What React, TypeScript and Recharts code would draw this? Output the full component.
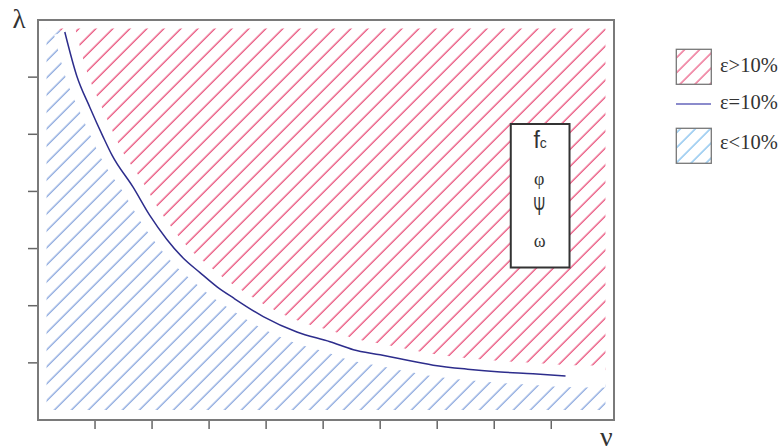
import React from 'react';
import { ComposedChart, Area, Line, XAxis, YAxis, ReferenceArea, Label } from 'recharts';

// ε = 10% boundary curve: ν (x) and λ (y)
const nu = [0.47, 0.68, 0.91, 1.14, 1.3, 1.67, 1.96, 2.26, 2.54, 2.84, 3.14, 3.42, 3.95, 4.54, 5.12, 5.53, 6.0, 6.35, 6.93, 7.53, 8.11, 8.68, 9.25];
const lambda = [6.79, 6.02, 5.47, 4.96, 4.63, 4.07, 3.58, 3.16, 2.84, 2.58, 2.33, 2.14, 1.81, 1.54, 1.37, 1.23, 1.14, 1.07, 0.96, 0.89, 0.84, 0.81, 0.77];

const xTicks = [1, 2, 3, 4, 5, 6, 7, 8, 9];
const yTicks = [1, 2, 3, 4, 5, 6];
const xDomain: [number, number] = [0, 10.1];
const yDomain: [number, number] = [0, 7];

// extent of the hatched regions
const hatchNu = [0.15, 9.95];
const hatchLambda = [0.175, 6.85];
// dividing level at the left and right ends of the hatching
const splitAtEdges = [6.85, 0.76];

// parameter box
const boxNu = [8.29, 9.32];
const boxLambda = [2.67, 5.18];

const legendLabels = ['ε>10%', 'ε=10%', 'ε<10%'];
const axisNames = ['ν', 'λ'];

const RED = '#e63c6c';
const BLUE = '#7b9bd9';
const NAVY = '#2d2d8c';
const SERIF = "'Liberation Serif', 'Times New Roman', serif";
const SANS = "'Liberation Sans', Arial, sans-serif";

const rows = [
  { nu: hatchNu[0], split: splitAtEdges[0], gap: null as number | null, curve: null as number | null },
  ...nu.map((v, i) => ({ nu: v, split: lambda[i], gap: lambda[i] as number | null, curve: lambda[i] as number | null })),
  { nu: hatchNu[1], split: splitAtEdges[1], gap: splitAtEdges[1] as number | null, curve: null as number | null },
];

const BoxSymbols = (props: any) => {
  const vb = props.viewBox || {};
  const cx = vb.x + vb.width / 2;
  const y = vb.y;
  return (
    <g fill="#333">
      <text x={cx} y={y + 23.5} textAnchor="middle" fontFamily={SANS}>
        <tspan fontSize={23}>f</tspan>
        <tspan fontSize={14}>c</tspan>
      </text>
      <text x={cx - 1} y={y + 61} textAnchor="middle" fontFamily={SERIF} fontSize={18}>φ</text>
      <text x={cx - 1} y={y + 90.5} textAnchor="middle" fontFamily={SANS} fontSize={25} textLength={12} lengthAdjust="spacingAndGlyphs">Ψ</text>
      <text x={cx - 0.5} y={y + 122.5} textAnchor="middle" fontFamily={SERIF} fontSize={18}>ω</text>
    </g>
  );
};

const Patterns = () => (
  <defs>
    <pattern id="hatchRed" patternUnits="userSpaceOnUse" width={12.02} height={12.02} patternTransform="rotate(45)">
      <line x1={3.9} y1={0} x2={3.9} y2={12.02} stroke={RED} strokeWidth={1.2} />
    </pattern>
    <pattern id="hatchBlue" patternUnits="userSpaceOnUse" width={12.02} height={12.02} patternTransform="rotate(45)">
      <line x1={3.9} y1={0} x2={3.9} y2={12.02} stroke={BLUE} strokeWidth={1.2} />
    </pattern>
    <pattern id="legendRed" patternUnits="userSpaceOnUse" width={10.6} height={10.6} patternTransform="rotate(45)">
      <line x1={3} y1={0} x2={3} y2={10.6} stroke={RED} strokeWidth={1.1} />
    </pattern>
    <pattern id="legendBlue" patternUnits="userSpaceOnUse" width={10.6} height={10.6} patternTransform="rotate(45)">
      <line x1={3} y1={0} x2={3} y2={10.6} stroke="#62aee8" strokeWidth={1.1} />
    </pattern>
  </defs>
);

const LegendPanel = () => (
  <svg width={122} height={130} style={{ position: 'absolute', left: 660, top: 40 }}>
    <Patterns />
    <rect x={16.3} y={9.3} width={35} height={35} fill="url(#legendRed)" stroke="#777" strokeWidth={1.3} />
    <text x={60} y={31.7} fontFamily={SERIF} fontSize={20.5} fill="#333">{legendLabels[0]}</text>
    <line x1={16} x2={51} y1={64} y2={64} stroke="#8b8bcc" strokeWidth={2} />
    <text x={60} y={69.3} fontFamily={SERIF} fontSize={20.5} fill="#333">{legendLabels[1]}</text>
    <rect x={16.3} y={88.3} width={35} height={35} fill="url(#legendBlue)" stroke="#777" strokeWidth={1.3} />
    <text x={60} y={109} fontFamily={SERIF} fontSize={20.5} fill="#333">{legendLabels[2]}</text>
  </svg>
);

export default function App() {
  return (
    <div style={{ position: 'absolute', left: 0, top: 0, width: 782, height: 448, background: '#fff', overflow: 'hidden' }}>
      <ComposedChart
        width={782}
        height={448}
        data={rows}
        margin={{ top: 20, right: 168, bottom: 0, left: 0 }}
        style={{ position: 'absolute', left: 0, top: 0 }}
      >
        <XAxis
          dataKey="nu"
          type="number"
          domain={xDomain}
          ticks={xTicks}
          allowDataOverflow
          height={28}
          tickSize={9}
          tickFormatter={() => ''}
          axisLine={false}
          tickLine={{ stroke: '#666', strokeWidth: 1.5 }}
        >
          <Label
            content={(p: any) => (
              <text x={p.viewBox.x + p.viewBox.width - 14} y={p.viewBox.y + 26} fontFamily={SERIF} fontSize={28} fill="#333">
                {axisNames[0]}
              </text>
            )}
          />
        </XAxis>
        <YAxis
          type="number"
          domain={yDomain}
          ticks={yTicks}
          allowDataOverflow
          width={38}
          tickSize={10}
          tickFormatter={() => ''}
          axisLine={false}
          tickLine={{ stroke: '#666', strokeWidth: 1.5 }}
        >
          <Label
            content={(p: any) => (
              <text x={p.viewBox.x + 12.5} y={p.viewBox.y + 8} fontFamily={SERIF} fontSize={27} fill="#333">
                {axisNames[1]}
              </text>
            )}
          />
        </YAxis>
        <Area
          type="monotone"
          dataKey={(d: any) => [hatchLambda[0], d.split]}
          stroke="none"
          fill="url(#hatchBlue)"
          fillOpacity={1}
          isAnimationActive={false}
          activeDot={false}
          zIndex={50}
        />
        <Area
          type="monotone"
          dataKey={(d: any) => [d.split, hatchLambda[1]]}
          stroke="none"
          fill="url(#hatchRed)"
          fillOpacity={1}
          isAnimationActive={false}
          activeDot={false}
          zIndex={50}
        />
        <Line
          type="monotone"
          dataKey="gap"
          stroke="#fff"
          strokeWidth={22}
          dot={false}
          activeDot={false}
          connectNulls={false}
          isAnimationActive={false}
          zIndex={600}
        />
        <Line
          type="monotone"
          dataKey="curve"
          stroke={NAVY}
          strokeWidth={1.5}
          dot={false}
          activeDot={false}
          connectNulls={false}
          isAnimationActive={false}
          zIndex={700}
        />
        <ReferenceArea
          x1={boxNu[0]}
          x2={boxNu[1]}
          y1={boxLambda[0]}
          y2={boxLambda[1]}
          fill="#fff"
          fillOpacity={1}
          stroke="#333"
          strokeWidth={2}
          ifOverflow="visible"
          zIndex={1000}
          label={(p: any) => <BoxSymbols {...p} />}
        />
        <ReferenceArea
          x1={xDomain[0]}
          x2={xDomain[1]}
          y1={yDomain[0]}
          y2={yDomain[1]}
          fill="none"
          stroke="#7a7a7a"
          strokeWidth={2}
          ifOverflow="visible"
          zIndex={1001}
        />
      </ComposedChart>
      <LegendPanel />
    </div>
  );
}
